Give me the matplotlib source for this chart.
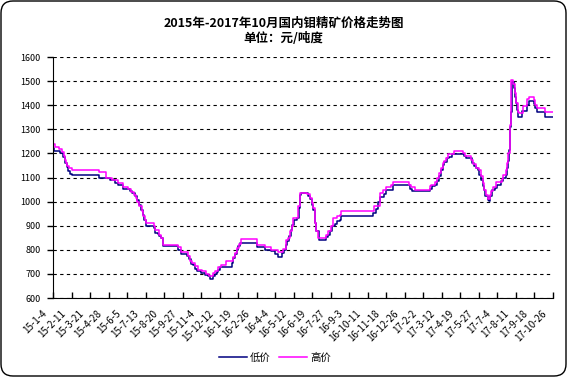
import matplotlib
matplotlib.use('Agg')
import matplotlib.pyplot as plt
from matplotlib.patches import FancyBboxPatch
from matplotlib.transforms import ScaledTranslation

plt.rcParams['font.family'] = ['Noto Sans CJK SC', 'DejaVu Sans']

title = '2015年-2017年10月国内钼精矿价格走势图'
subtitle = '单位：元/吨度'

# category labels, one every 38 days starting 2015-1-4
tick_labels = ['15-1-4', '15-2-11', '15-3-21', '15-4-28', '15-6-5', '15-7-13',
               '15-8-20', '15-9-27', '15-11-4', '15-12-12', '16-1-19', '16-2-26',
               '16-4-4', '16-5-12', '16-6-19', '16-7-27', '16-9-3', '16-10-11',
               '16-11-18', '16-12-26', '17-2-2', '17-3-12', '17-4-19', '17-5-27',
               '17-7-4', '17-8-11', '17-9-18', '17-10-26']
label_step = 38
last_day = 1027

# (day since 2015-1-4, price) where the price changes
low_steps = [
    (0, 1221), (1, 1210), (14, 1200), (20, 1186), (25, 1159), (28, 1145), (31, 1127),
    (35, 1113), (38, 1110), (95, 1100), (117, 1090), (127, 1076), (134, 1067),
    (143, 1053), (158, 1045), (163, 1035), (168, 1025), (173, 1007), (177, 987),
    (180, 966), (184, 945), (187, 925), (191, 900), (207, 890), (209, 871), (216, 867),
    (218, 857), (221, 847), (225, 836), (226, 815), (257, 801), (262, 781), (276, 774),
    (280, 760), (283, 743), (288, 735), (291, 722), (296, 711), (305, 704), (312, 697),
    (319, 690), (322, 679), (329, 690), (333, 700), (336, 708), (339, 718), (344, 729),
    (367, 746), (370, 767), (373, 783), (377, 801), (380, 815), (385, 829), (418, 812),
    (435, 800), (447, 794), (456, 784), (462, 770), (471, 787), (474, 800), (478, 821),
    (481, 835), (485, 856), (488, 884), (491, 905), (495, 923), (502, 932), (505, 974),
    (507, 1029), (509, 1034), (524, 1022), (527, 1009), (531, 988), (534, 967),
    (538, 912), (541, 877), (546, 842), (560, 853), (564, 863), (568, 877), (574, 898),
    (579, 909), (583, 918), (589, 925), (592, 940), (657, 952), (664, 968), (668, 1000),
    (671, 1021), (680, 1032), (685, 1050), (698, 1067), (734, 1054), (738, 1043),
    (774, 1054), (779, 1063), (784, 1070), (789, 1084), (793, 1105), (797, 1132),
    (801, 1153), (804, 1164), (809, 1180), (813, 1187), (820, 1198), (845, 1190),
    (849, 1181), (861, 1160), (864, 1149), (868, 1139), (873, 1130), (876, 1112),
    (880, 1091), (883, 1066), (885, 1047), (888, 1022), (893, 1008), (895, 1001),
    (898, 1022), (902, 1050), (907, 1057), (912, 1070), (921, 1084), (925, 1098),
    (930, 1112), (932, 1139), (934, 1167), (936, 1215), (939, 1311), (941, 1373),
    (943, 1497), (946, 1470), (948, 1435), (950, 1408), (953, 1380), (955, 1353),
    (958, 1350), (964, 1377), (973, 1401), (977, 1419), (987, 1405), (991, 1387),
    (994, 1371), (1010, 1350)]

high_steps = [
    (0, 1237), (4, 1228), (13, 1218), (18, 1204), (22, 1190), (24, 1172), (26, 1159),
    (29, 1149), (33, 1138), (38, 1133), (95, 1122), (109, 1100), (122, 1090),
    (134, 1076), (144, 1062), (154, 1053), (161, 1039), (166, 1028), (170, 1017),
    (173, 1000), (177, 980), (182, 959), (185, 939), (189, 925), (192, 911), (207, 899),
    (209, 881), (218, 861), (221, 850), (225, 839), (226, 822), (257, 812), (262, 792),
    (278, 776), (281, 753), (285, 746), (291, 732), (298, 718), (307, 711), (314, 701),
    (321, 693), (329, 704), (333, 711), (339, 728), (346, 739), (356, 753), (370, 769),
    (373, 787), (378, 808), (382, 825), (387, 843), (418, 821), (435, 812), (447, 800),
    (462, 791), (473, 803), (478, 839), (483, 849), (486, 877), (490, 900), (493, 932),
    (503, 981), (507, 1036), (522, 1032), (527, 1016), (531, 995), (534, 974),
    (538, 912), (541, 877), (544, 849), (560, 863), (565, 877), (572, 898), (575, 932),
    (583, 942), (589, 946), (592, 960), (659, 980), (671, 1035), (678, 1050),
    (685, 1061), (695, 1070), (698, 1081), (731, 1070), (736, 1059), (743, 1050),
    (774, 1063), (777, 1070), (784, 1080), (789, 1098), (793, 1118), (797, 1139),
    (801, 1160), (804, 1169), (807, 1180), (811, 1197), (823, 1208), (843, 1201),
    (847, 1190), (859, 1174), (862, 1157), (869, 1139), (875, 1132), (880, 1105),
    (883, 1077), (886, 1050), (890, 1029), (893, 1011), (897, 1029), (900, 1043),
    (903, 1061), (910, 1080), (923, 1094), (925, 1112), (930, 1132), (932, 1160),
    (934, 1201), (938, 1318), (941, 1504), (945, 1490), (948, 1449), (952, 1408),
    (955, 1373), (957, 1369), (965, 1397), (973, 1424), (977, 1435), (989, 1422),
    (991, 1401), (995, 1387), (1010, 1371)]


def unzip(steps):
    days = [d for d, _ in steps] + [last_day]
    vals = [v for _, v in steps] + [steps[-1][1]]
    return days, vals


fig = plt.figure(figsize=(5.67, 3.77), dpi=100)
ax = fig.add_axes([0.0935, 0.2095, 0.8818, 0.6393])

ld, lv = unzip(low_steps)
hd, hv = unzip(high_steps)
ax.step(ld, lv, where='post', color='#000080', lw=1.1, label='低价')
ax.step(hd, hv, where='post', color='#FF00FF', lw=1.1, label='高价')

ax.set_xlim(0, last_day)
ax.set_ylim(600, 1600)
ax.set_yticks(range(600, 1601, 100))
ax.yaxis.grid(True, linestyle=(0, (3, 3)), color='black', lw=0.8)
ax.set_axisbelow(True)
for s in ['top', 'right']:
    ax.spines[s].set_visible(False)
ax.tick_params(axis='y', direction='out', length=4, width=1, labelsize=6.5, pad=5)

ax.set_xticks([i * label_step for i in range(len(tick_labels))])
ax.set_xticklabels(tick_labels, rotation=45, ha='right', va='center',
                   rotation_mode='anchor', fontsize=7)
ax.tick_params(axis='x', direction='in', length=4, width=1, pad=10)
shift = ScaledTranslation(-0.08, 0, fig.dpi_scale_trans)
for lab in ax.get_xticklabels():
    lab.set_transform(lab.get_transform() + shift)

fig.text(0.5, 1 - 23 / 377, title, ha='center', va='center', fontsize=9, fontweight='bold')
fig.text(0.5, 1 - 38 / 377, subtitle, ha='center', va='center', fontsize=9, fontweight='bold')

fig.legend(loc='center', bbox_to_anchor=(275 / 567, 1 - 358 / 377), ncol=2,
           frameon=False, fontsize=7.5, handlelength=2.7, handletextpad=0.3,
           columnspacing=0.8)

# rounded chart border
border = FancyBboxPatch((0.01, 0.01), 5.65, 3.75, boxstyle='round,pad=0,rounding_size=0.12',
                        transform=fig.dpi_scale_trans, fill=False, ec='black', lw=1)
fig.patches.append(border)

fig.savefig('out.png', dpi=100)
